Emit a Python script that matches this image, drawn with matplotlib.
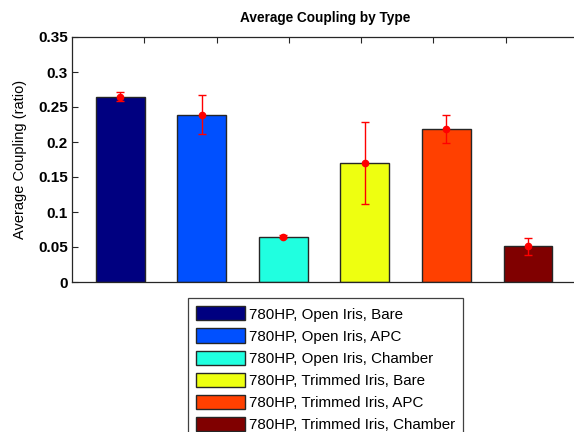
"""Bar chart of average coupling per fibre/iris configuration."""

import matplotlib
matplotlib.use("Agg")
import matplotlib.pyplot as plt
import numpy as np

plt.rcParams["font.family"] = ["Liberation Sans", "DejaVu Sans"]

labels = [
    "780HP, Open Iris, Bare",
    "780HP, Open Iris, APC",
    "780HP, Open Iris, Chamber",
    "780HP, Trimmed Iris, Bare",
    "780HP, Trimmed Iris, APC",
    "780HP, Trimmed Iris, Chamber",
]
coupling = [0.265, 0.239, 0.065, 0.170, 0.219, 0.051]
coupling_err = [0.007, 0.028, 0.002, 0.058, 0.020, 0.0125]
colors = ["#000080", "#0050ff", "#20ffe0", "#eeff10", "#ff4000", "#800000"]
yticks = [0, 0.05, 0.1, 0.15, 0.2, 0.25, 0.3, 0.35]
ytick_labels = ["0", "0.05", "0.1", "0.15", "0.2", "0.25", "0.3", "0.35"]

W, H = 574, 432
fig = plt.figure(figsize=(W / 100, H / 100), dpi=100)
fig.patch.set_facecolor("white")

left, right, top, bottom = 72, 578, 37, 282
ax = fig.add_axes([left / W, 1 - bottom / H, (right - left) / W, (bottom - top) / H])

x = np.arange(1, len(coupling) + 1)
handles = []
for xi, val, col, lab in zip(x, coupling, colors, labels):
    h = ax.bar(xi, val, width=0.6, color=col, edgecolor="#262626", linewidth=1.0,
               label=lab, zorder=2)
    handles.append(h)
ax.errorbar(x, coupling, yerr=coupling_err, fmt="o", color="red", ecolor="red",
            markersize=4.5, elinewidth=1.0, capsize=3, capthick=1.0, zorder=3)

ax.set_xlim(0.41, 6.55)
ax.set_ylim(0, 0.35)
ax.set_xticks(1.297 + 0.886 * np.arange(7))
ax.set_xticklabels([])
ax.set_yticks(yticks)
ax.set_yticklabels(ytick_labels, fontsize=11, fontweight="bold")
ax.tick_params(direction="in", top=True, right=False, length=4, width=0.8,
               color="#262626", pad=3)
for sp in ax.spines.values():
    sp.set_color("#262626")
    sp.set_linewidth(0.9)

ax.set_ylabel("Average Coupling (ratio)", fontsize=10.5, labelpad=8)
fig.text(325 / W, 1 - 18 / H, "Average Coupling by Type", ha="center", va="center",
         fontsize=9.8, fontweight="bold")

leg = fig.legend(handles=handles, loc="upper left",
                 bbox_to_anchor=(188 / W, 1 - 298 / H), fontsize=10.9,
                 handlelength=3.2, handleheight=1.05, handletextpad=0.25,
                 labelspacing=0.46, borderpad=0.55, borderaxespad=0,
                 fancybox=False, framealpha=1)
leg.get_frame().set_edgecolor("#404040")
leg.get_frame().set_linewidth(0.9)

fig.savefig("out.png", dpi=100, facecolor="white")
